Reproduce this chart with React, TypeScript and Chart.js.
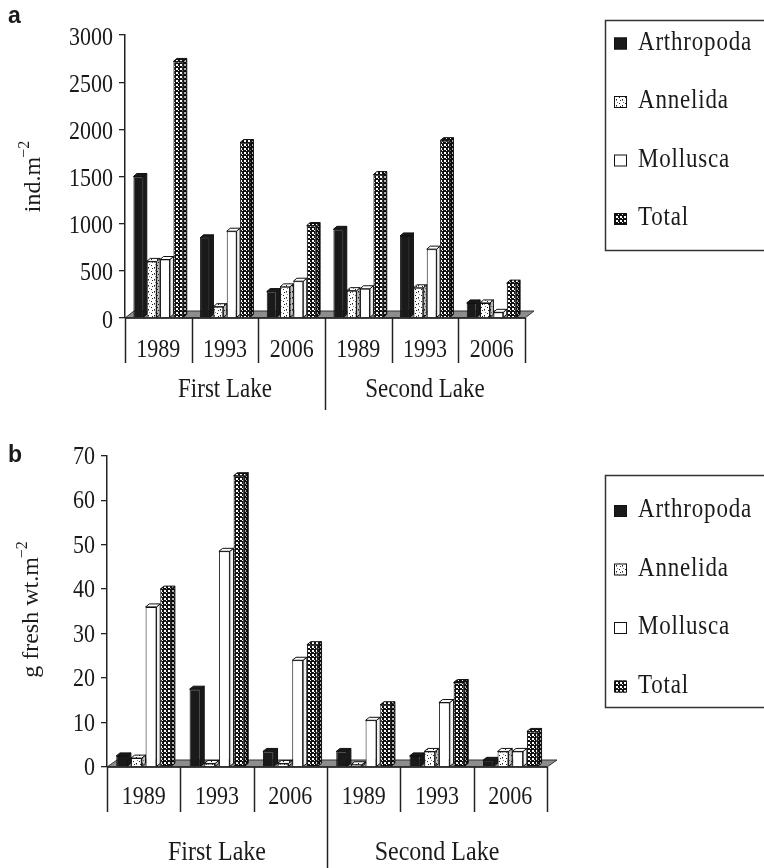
import React, { useEffect, useRef } from "react";
import { Chart, registerables } from "chart.js";
Chart.register(...registerables);

// ---------- data ----------
const years = ["1989", "1993", "2006", "1989", "1993", "2006"];
const lakes = ["First Lake", "Second Lake"];
const seriesNames = ["Arthropoda", "Annelida", "Mollusca", "Total"];

const densityArthropoda = [1500, 850, 280, 940, 870, 160];
const densityAnnelida = [600, 120, 330, 290, 320, 160];
const densityMollusca = [620, 920, 390, 310, 730, 60];
const densityTotal = [2720, 1860, 980, 1520, 1880, 370];
const densityMax = 3000;
const densityStep = 500;

const biomassArthropoda = [2.5, 17.5, 3.5, 3.5, 2.5, 1.5];
const biomassAnnelida = [2, 0.8, 0.8, 0.5, 3.5, 3.5];
const biomassMollusca = [36, 48.5, 24, 10.5, 14.5, 3.5];
const biomassTotal = [40, 65.5, 27.5, 14, 19, 8];
const biomassMax = 70;
const biomassStep = 10;

const titleA = ["ind.m", "\u22122"];
const titleB = ["g fresh wt.m", "\u22122"];

// ---------- styling helpers ----------
const SERIF = '"Liberation Serif", "Times New Roman", serif';
const SANS = '"Liberation Sans", Arial, sans-serif';
const INK = "#1a1a1a";

function makePattern(kind: string): CanvasPattern {
  const c = document.createElement("canvas");
  const ctx = c.getContext("2d")!;
  if (kind === "dots") {
    c.width = 6;
    c.height = 6;
    ctx.fillStyle = "#ffffff";
    ctx.fillRect(0, 0, 6, 6);
    ctx.fillStyle = "#222";
    ctx.fillRect(1, 1, 1, 1);
    ctx.fillRect(4, 3, 1, 1);
    ctx.fillRect(2, 4, 1, 1);
    ctx.fillStyle = "#888";
    ctx.fillRect(5, 0, 1, 1);
    ctx.fillRect(4, 4, 1, 1);
  } else {
    c.width = 4;
    c.height = 4;
    ctx.fillStyle = "#111111";
    ctx.fillRect(0, 0, 4, 4);
    ctx.fillStyle = "#ffffff";
    ctx.fillRect(0, 0, 2, 2);
    ctx.fillRect(2, 2, 1, 1);
  }
  return ctx.createPattern(c, "repeat")!;
}

function drawText(
  ctx: CanvasRenderingContext2D,
  s: string,
  x: number,
  y: number,
  size: number,
  align: CanvasTextAlign,
  stretch = 1,
  spacing = 0,
  font = SERIF,
  weight = ""
) {
  ctx.save();
  ctx.translate(x, y);
  ctx.scale(1, stretch);
  ctx.font = `${weight} ${size}px ${font}`;
  (ctx as any).letterSpacing = spacing + "px";
  ctx.textAlign = align;
  ctx.textBaseline = "alphabetic";
  ctx.fillStyle = INK;
  ctx.fillText(s, 0, 0);
  ctx.restore();
}

type PanelCfg = {
  top: number;
  height: number;
  padTop: number;
  padBottom: number;
  padRight: number;
  yWidth: number;
  yMax: number;
  yStep: number;
  series: number[][];
  letter: string;
  letterBaseline: number;
  title: string[];
  titleX: number;
  titleY: number;
  tickFont: number;
  tickStretch: number;
  tickBaseOff: number;
  catFont: number;
  catBaseline: number;
  groupFont: number;
  groupBaseline: number;
  dividerBottom: number;
  middleBottom: number;
  legendTop: number;
  legendBottom: number;
  legendBaselines: number[];
  dx: number;
  dy: number;
  fdx: number;
  fdy: number;
};

function Panel({ cfg }: { cfg: PanelCfg }) {
  const ref = useRef<HTMLCanvasElement | null>(null);
  useEffect(() => {
    const canvas = ref.current!;
    const dots = makePattern("dots");
    const checker = makePattern("checker");
    const fills: any[] = ["#1a1a1a", dots, "#ffffff", checker];
    const sideShade = [0, 0.25, 0.06, 0.3];

    const poly = (ctx: CanvasRenderingContext2D, pts: number[][]) => {
      ctx.beginPath();
      ctx.moveTo(pts[0][0], pts[0][1]);
      for (let i = 1; i < pts.length; i++) ctx.lineTo(pts[i][0], pts[i][1]);
      ctx.closePath();
    };

    const plugin = {
      id: "panelDeco",
      beforeDatasetsDraw(chart: any) {
        const { ctx, chartArea: a } = chart;
        ctx.save();
        poly(ctx, [
          [a.left, a.bottom],
          [a.right, a.bottom],
          [a.right + cfg.fdx, a.bottom - cfg.fdy],
          [a.left + cfg.fdx, a.bottom - cfg.fdy],
        ]);
        ctx.fillStyle = "#8d8d8d";
        ctx.fill();
        ctx.strokeStyle = "#333";
        ctx.lineWidth = 1;
        ctx.stroke();
        ctx.restore();
      },
      beforeDatasetDraw(chart: any, args: any) {
        const { ctx } = chart;
        const k = args.index;
        const meta = chart.getDatasetMeta(k);
        ctx.save();
        ctx.lineWidth = 1;
        ctx.strokeStyle = "#111";
        meta.data.forEach((el: any) => {
          const p = el.getProps(["x", "y", "base", "width"], true);
          const l = p.x - p.width / 2;
          const r = p.x + p.width / 2;
          const t = p.y;
          const b = p.base;
          // side face
          poly(ctx, [
            [r, t],
            [r + cfg.dx, t - cfg.dy],
            [r + cfg.dx, b - cfg.dy],
            [r, b],
          ]);
          ctx.fillStyle = fills[k];
          ctx.fill();
          if (sideShade[k] > 0) {
            ctx.fillStyle = `rgba(0,0,0,${sideShade[k]})`;
            ctx.fill();
          }
          ctx.stroke();
          // top face
          poly(ctx, [
            [l, t],
            [l + cfg.dx, t - cfg.dy],
            [r + cfg.dx, t - cfg.dy],
            [r, t],
          ]);
          ctx.fillStyle = fills[k];
          ctx.fill();
          ctx.stroke();
        });
        ctx.restore();
      },
      afterDraw(chart: any) {
        const { ctx, chartArea: a } = chart;
        const xs = chart.scales.x;
        const ys = chart.scales.y;
        ctx.save();
        ctx.strokeStyle = "#222";
        ctx.lineWidth = 1.5;
        // front edge of floor / x axis
        ctx.beginPath();
        ctx.moveTo(a.left, a.bottom);
        ctx.lineTo(a.right, a.bottom);
        ctx.stroke();
        // dividers
        const n = years.length;
        const bounds: number[] = [a.left];
        for (let i = 1; i < n; i++) {
          bounds.push((xs.getPixelForValue(i - 1) + xs.getPixelForValue(i)) / 2);
        }
        bounds.push(a.right);
        bounds.forEach((bx, i) => {
          ctx.beginPath();
          ctx.moveTo(Math.round(bx) + 0.5, a.bottom);
          ctx.lineTo(Math.round(bx) + 0.5, i === n / 2 ? cfg.middleBottom : cfg.dividerBottom);
          ctx.stroke();
        });
        // category labels
        years.forEach((y, i) => {
          drawText(ctx, y, xs.getPixelForValue(i), cfg.catBaseline, cfg.catFont, "center", 1.17);
        });
        // group labels
        lakes.forEach((lk, g) => {
          const per = n / lakes.length;
          let s = 0;
          for (let i = g * per; i < (g + 1) * per; i++) s += xs.getPixelForValue(i);
          drawText(ctx, lk, s / per, cfg.groupBaseline, cfg.groupFont, "center", 1.15);
        });
        // y tick labels
        ys.ticks.forEach((t: any) => {
          const py = ys.getPixelForValue(t.value);
          drawText(ctx, String(t.value), a.left - 12, py + cfg.tickBaseOff, cfg.tickFont, "right", cfg.tickStretch);
        });
        // y title
        ctx.save();
        ctx.translate(cfg.titleX, cfg.titleY);
        ctx.rotate(-Math.PI / 2);
        ctx.font = `24px ${SERIF}`;
        const w1 = ctx.measureText(cfg.title[0]).width;
        ctx.font = `16px ${SERIF}`;
        const w2 = ctx.measureText(cfg.title[1]).width;
        const start = -(w1 + w2) / 2;
        ctx.fillStyle = INK;
        ctx.textBaseline = "alphabetic";
        ctx.textAlign = "left";
        ctx.font = `24px ${SERIF}`;
        ctx.fillText(cfg.title[0], start, 0);
        ctx.font = `16px ${SERIF}`;
        ctx.fillText(cfg.title[1], start + w1 - 1, -11);
        ctx.restore();
        // panel letter
        drawText(ctx, cfg.letter, 8, cfg.letterBaseline, 23, "left", 1, 0, SANS, "bold");
        // legend box
        ctx.lineWidth = 1.5;
        ctx.strokeStyle = "#333";
        ctx.strokeRect(605.5, cfg.legendTop + 0.5, 200, cfg.legendBottom - cfg.legendTop);
        seriesNames.forEach((nm, k) => {
          const bl = cfg.legendBaselines[k];
          const mx = 614;
          const my = bl - 12;
          ctx.fillStyle = fills[k];
          ctx.fillRect(mx, my, 13, 12);
          ctx.lineWidth = 1;
          ctx.strokeStyle = "#111";
          ctx.strokeRect(mx + 0.5, my + 0.5, 12, 11);
          drawText(ctx, nm, 638, bl, 23, "left", 1.2, 0.8);
        });
        ctx.restore();
      },
    };

    const chart = new Chart(canvas, {
      type: "bar",
      data: {
        labels: years,
        datasets: seriesNames.map((nm, k) => ({
          label: nm,
          data: cfg.series[k],
          backgroundColor: fills[k],
          borderColor: "#111",
          borderWidth: 1,
          categoryPercentage: 0.8,
          barPercentage: 0.74,
        })),
      },
      options: {
        responsive: false,
        animation: false,
        devicePixelRatio: 1,
        layout: {
          padding: { top: cfg.padTop, bottom: cfg.padBottom, right: cfg.padRight, left: 0 },
        },
        plugins: { legend: { display: false }, tooltip: { enabled: false }, title: { display: false } },
        scales: {
          x: { type: "category", display: false, offset: true },
          y: {
            min: 0,
            max: cfg.yMax,
            ticks: { stepSize: cfg.yStep, display: false },
            grid: {
              display: true,
              drawOnChartArea: false,
              drawTicks: true,
              tickLength: 6,
              color: "#222",
              lineWidth: 1.3,
            },
            border: { display: true, color: "#222", width: 1.5 },
            afterFit: (s: any) => {
              s.width = cfg.yWidth;
            },
          },
        },
      },
      plugins: [plugin],
    } as any);
    return () => chart.destroy();
  }, [cfg]);
  return (
    <canvas
      ref={ref}
      width={764}
      height={cfg.height}
      style={{ position: "absolute", left: 0, top: cfg.top, width: 764, height: cfg.height }}
    />
  );
}

const panelA: PanelCfg = {
  top: 0,
  height: 430,
  padTop: 35,
  padBottom: 112,
  padRight: 239,
  yWidth: 125,
  yMax: densityMax,
  yStep: densityStep,
  series: [densityArthropoda, densityAnnelida, densityMollusca, densityTotal],
  letter: "a",
  letterBaseline: 23,
  title: titleA,
  titleX: 40,
  titleY: 176,
  tickFont: 22,
  tickStretch: 1.1,
  tickBaseOff: 9.5,
  catFont: 22,
  catBaseline: 357,
  groupFont: 23,
  groupBaseline: 397,
  dividerBottom: 363,
  middleBottom: 410,
  legendTop: 20,
  legendBottom: 250,
  legendBaselines: [49.5, 108, 166.5, 225],
  dx: 3.5,
  dy: 3,
  fdx: 9,
  fdy: 7,
};

const panelB: PanelCfg = {
  top: 430,
  height: 438,
  padTop: 25.7,
  padBottom: 101,
  padRight: 217,
  yWidth: 107,
  yMax: biomassMax,
  yStep: biomassStep,
  series: [biomassArthropoda, biomassAnnelida, biomassMollusca, biomassTotal],
  letter: "b",
  letterBaseline: 32,
  title: titleB,
  titleX: 38,
  titleY: 179,
  tickFont: 22,
  tickStretch: 1.17,
  tickBaseOff: 8,
  catFont: 22,
  catBaseline: 374,
  groupFont: 24,
  groupBaseline: 430,
  dividerBottom: 382,
  middleBottom: 438,
  legendTop: 45,
  legendBottom: 277,
  legendBaselines: [87, 145.5, 204, 262.5],
  dx: 3.8,
  dy: 3,
  fdx: 10,
  fdy: 7,
};

export default function App() {
  return (
    <div style={{ position: "absolute", left: 0, top: 0, width: 764, height: 868, background: "#fff" }}>
      <Panel cfg={panelA} />
      <Panel cfg={panelB} />
    </div>
  );
}
